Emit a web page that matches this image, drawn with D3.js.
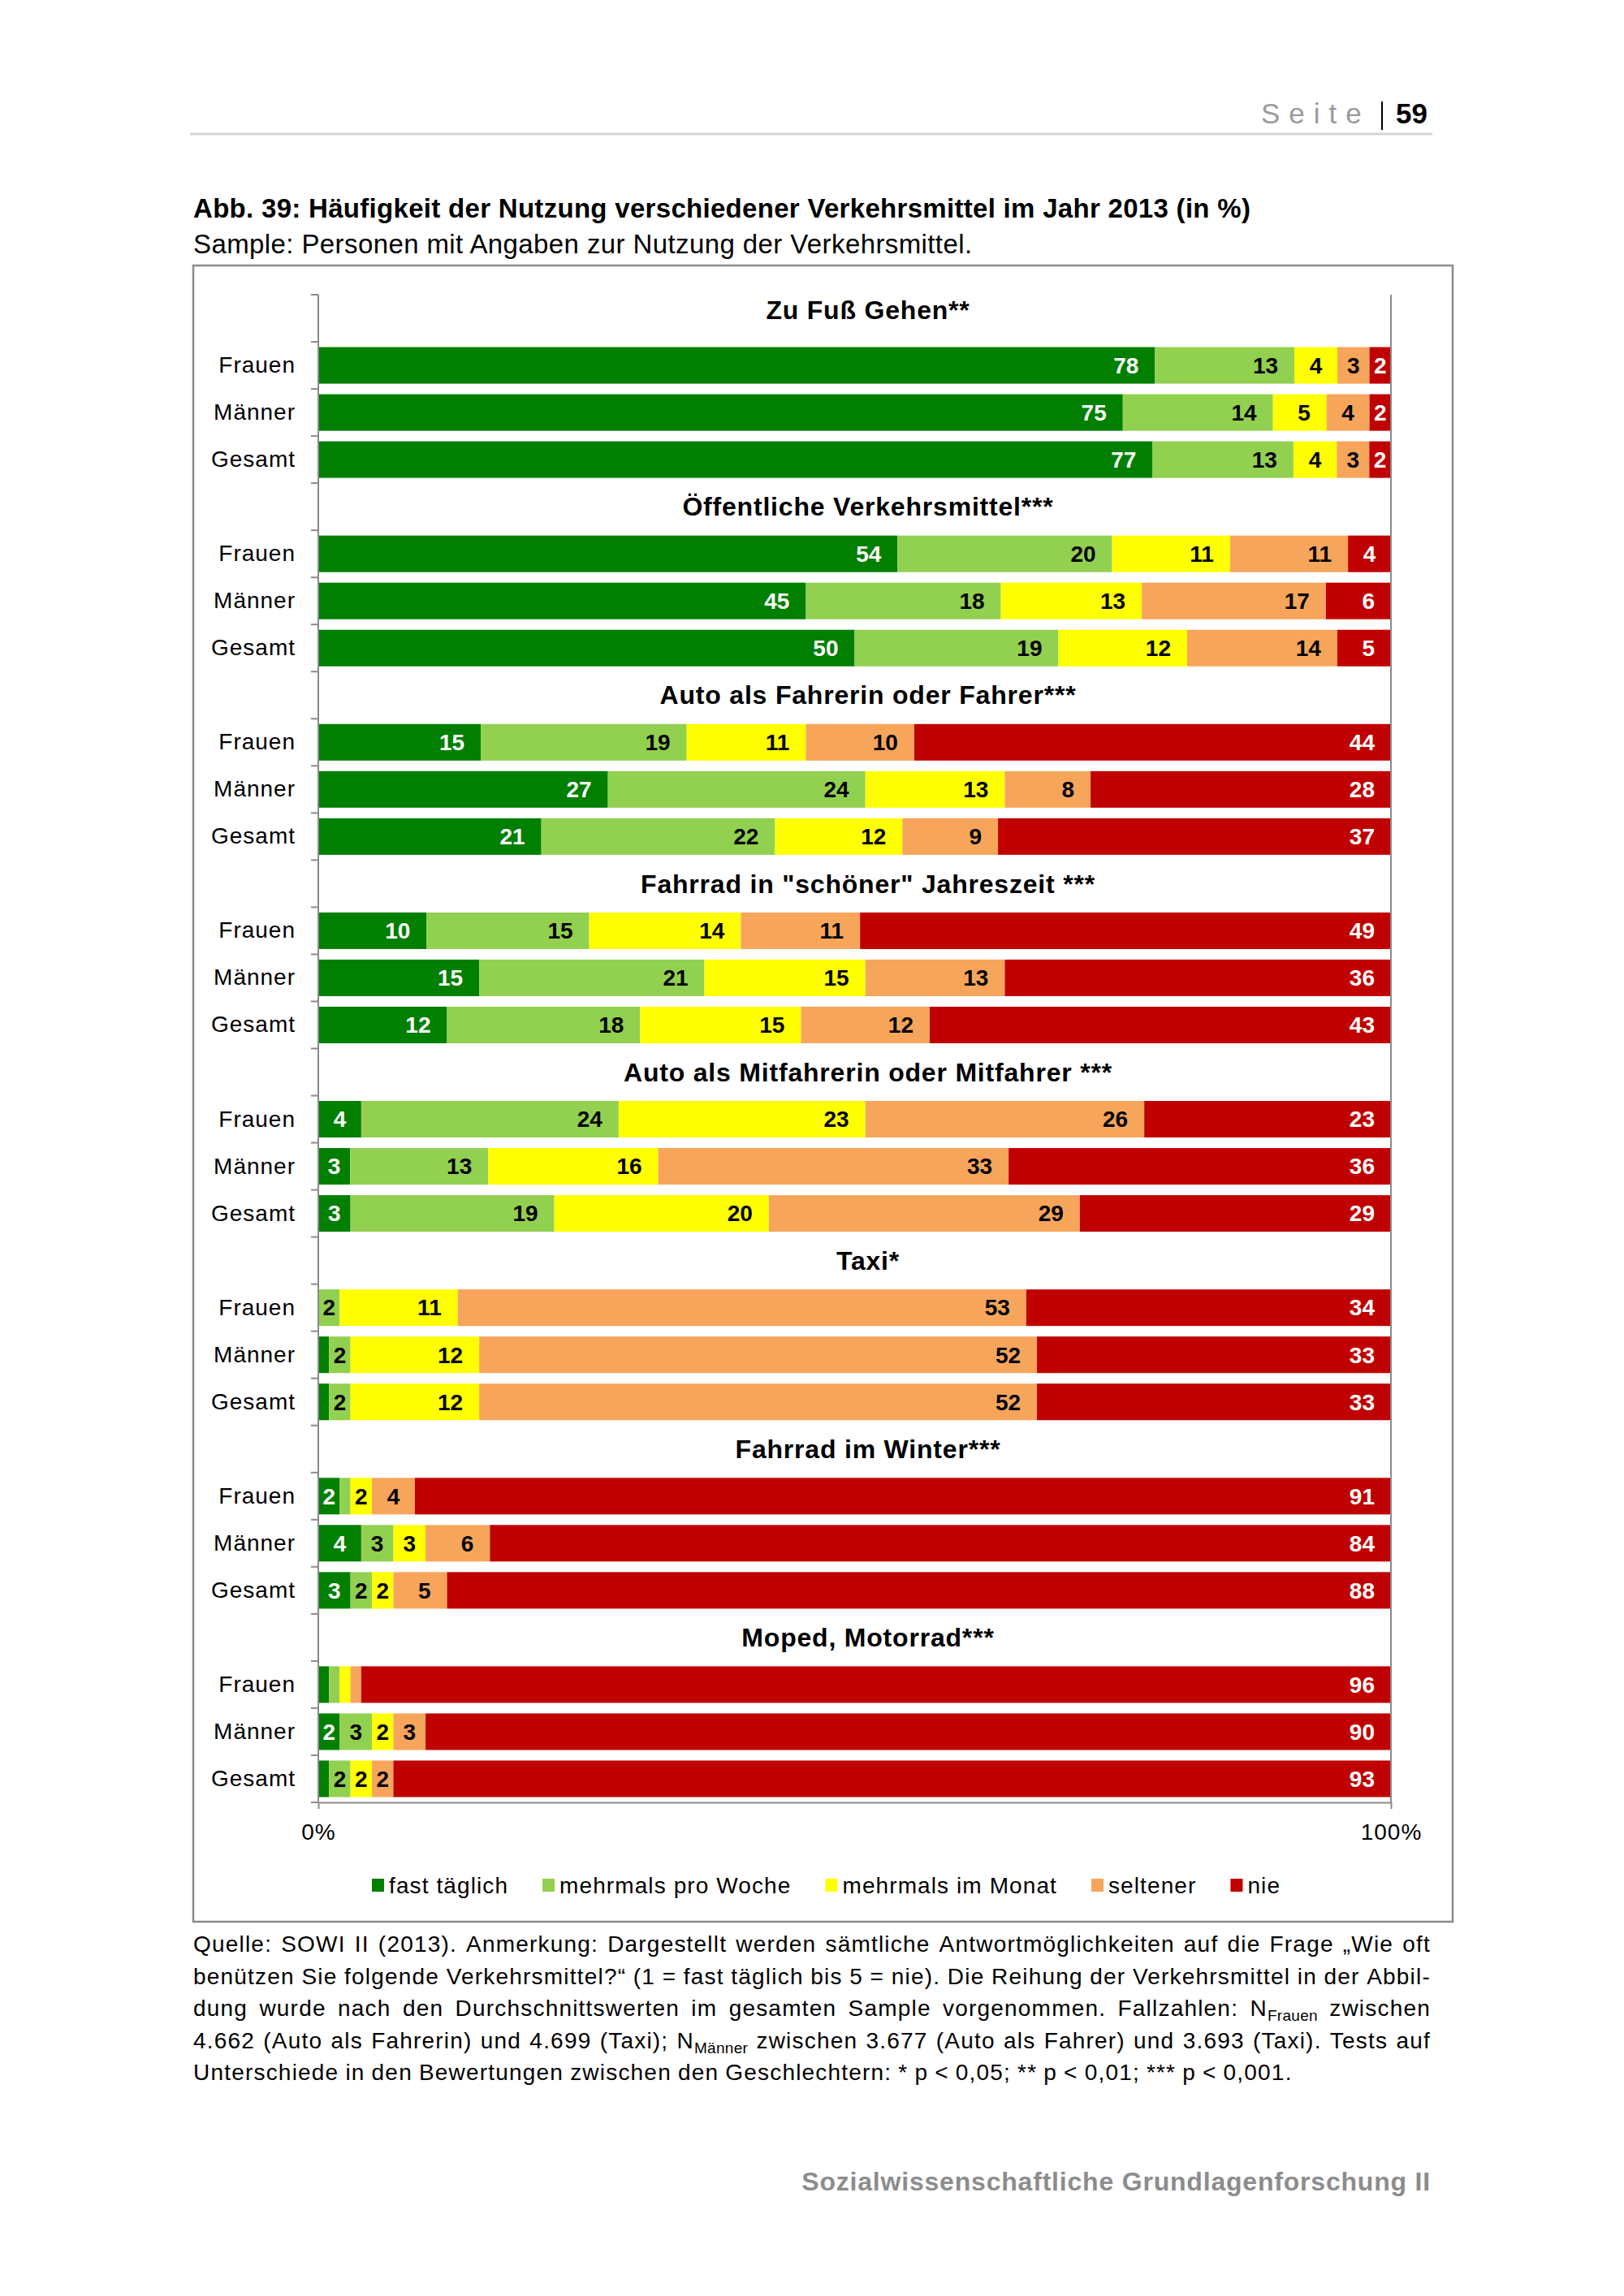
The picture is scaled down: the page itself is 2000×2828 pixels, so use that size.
<!DOCTYPE html>
<html>
<head>
<meta charset="utf-8">
<script src="https://cdn.jsdelivr.net/npm/d3@7"></script>
<style>
  body { margin: 0; background: #fff; }
  text { font-family: "Liberation Sans", Arial, sans-serif; }
</style>
</head>
<body>
<div id="chart"></div>
<script>
// Groups, rows and answer categories
var groups = [
  "Zu Fuß Gehen**",
  "Öffentliche Verkehrsmittel***",
  "Auto als Fahrerin oder Fahrer***",
  "Fahrrad in \"schöner\" Jahreszeit ***",
  "Auto als Mitfahrerin oder Mitfahrer ***",
  "Taxi*",
  "Fahrrad im Winter***",
  "Moped, Motorrad***"
];
var rows = ["Frauen", "Männer", "Gesamt"];
var series = ["fast täglich", "mehrmals pro Woche", "mehrmals im Monat", "seltener", "nie"];

// Values in %, order: group by group, Frauen / Männer / Gesamt
var fastTaeglich  = [78, 75, 77, 54, 45, 50, 15, 27, 21, 10, 15, 12,  4,  3,  3,  0,  1,  1,  2,  4,  3,  1,  2,  1];
var mehrmalsWoche = [13, 14, 13, 20, 18, 19, 19, 24, 22, 15, 21, 18, 24, 13, 19,  2,  2,  2,  1,  3,  2,  1,  3,  2];
var mehrmalsMonat = [ 4,  5,  4, 11, 13, 12, 11, 13, 12, 14, 15, 15, 23, 16, 20, 11, 12, 12,  2,  3,  2,  1,  2,  2];
var seltener      = [ 3,  4,  3, 11, 17, 14, 10,  8,  9, 11, 13, 12, 26, 33, 29, 53, 52, 52,  4,  6,  5,  1,  3,  2];
var nie           = [ 2,  2,  2,  4,  6,  5, 44, 28, 37, 49, 36, 43, 23, 36, 29, 34, 33, 33, 91, 84, 88, 96, 90, 93];

var seriesValues = [fastTaeglich, mehrmalsWoche, mehrmalsMonat, seltener, nie];

var xTicks = [0, 1];

// Colours
var colors = ["#007f00", "#92d050", "#ffff00", "#f7a55b", "#c00000"];
var whiteText = [true, false, false, false, true];
var axisColor = "#8a8a8a";

// Page size
var width = 2000;
var height = 2828;

var svg = d3.select("#chart")
  .append("svg")
  .attr("width", width)
  .attr("height", height);

svg.append("rect").attr("width", width).attr("height", height).attr("fill", "#fff");

// Page header
svg.append("text")
  .attr("x", 1553).attr("y", 152)
  .attr("font-size", 35)
  .attr("fill", "#9a9a9a")
  .attr("letter-spacing", 11)
  .text("Seite");
svg.append("line")
  .attr("x1", 1702).attr("x2", 1702).attr("y1", 125).attr("y2", 160)
  .attr("stroke", "#000").attr("stroke-width", 2);
svg.append("text")
  .attr("x", 1719).attr("y", 152)
  .attr("font-size", 35).attr("font-weight", "bold")
  .text("59");
svg.append("line")
  .attr("x1", 234).attr("x2", 1764).attr("y1", 165).attr("y2", 165)
  .attr("stroke", "#d6d6d6").attr("stroke-width", 3);

// Figure title
svg.append("text")
  .attr("x", 238).attr("y", 268)
  .attr("font-size", 33).attr("font-weight", "bold")
  .attr("letter-spacing", 0.3)
  .text("Abb. 39: Häufigkeit der Nutzung verschiedener Verkehrsmittel im Jahr 2013 (in %)");
svg.append("text")
  .attr("x", 238).attr("y", 312)
  .attr("font-size", 33)
  .attr("letter-spacing", 0.4)
  .text("Sample: Personen mit Angaben zur Nutzung der Verkehrsmittel.");

// Chart frame
svg.append("rect")
  .attr("x", 238).attr("y", 327)
  .attr("width", 1551).attr("height", 2040)
  .attr("fill", "none")
  .attr("stroke", axisColor).attr("stroke-width", 2.5);

// Build table rows
var keys = [];
var table = [];
groups.forEach(function (g, gi) {
  keys.push("t" + gi);
  rows.forEach(function (r, ri) {
    var idx = gi * rows.length + ri;
    var d = { key: gi + "|" + r, group: gi, row: r };
    series.forEach(function (s, si) {
      d[s] = seriesValues[si][idx];
    });
    keys.push(d.key);
    table.push(d);
  });
});

// Scales
var xScale = d3.scaleLinear().domain([0, 1]).range([392, 1713]);

var yScale = d3.scaleBand()
  .domain(keys)
  .range([363, 2220])
  .paddingInner(0.224)
  .paddingOuter(0.112);

// Stack to 100%
var stacked = d3.stack()
  .keys(series)
  .offset(d3.stackOffsetExpand)(table);

var layers = svg.append("g")
  .selectAll("g")
  .data(stacked)
  .join("g")
  .attr("fill", function (d, i) { return colors[i]; });

layers.selectAll("rect")
  .data(function (d) { return d; })
  .join("rect")
  .attr("x", function (d) { return xScale(d[0]); })
  .attr("y", function (d) { return yScale(d.data.key); })
  .attr("width", function (d) { return xScale(d[1]) - xScale(d[0]); })
  .attr("height", yScale.bandwidth());

// Value labels (inside end, centred when the segment is narrow)
var labelGroup = svg.append("g")
  .attr("font-size", 28)
  .attr("font-weight", "bold")
  .attr("text-anchor", "middle");

stacked.forEach(function (layer, si) {
  layer.forEach(function (d) {
    var v = d.data[series[si]];
    if (v < 2) return;
    var x0 = xScale(d[0]);
    var x1 = xScale(d[1]);
    var t = labelGroup.append("text")
      .attr("y", yScale(d.data.key) + yScale.bandwidth() / 2)
      .attr("dy", "0.35em")
      .attr("fill", whiteText[si] ? "#fff" : "#000")
      .text(v);
    var w = t.node().getComputedTextLength();
    t.attr("x", Math.max((x0 + x1) / 2, x1 - 20 - w / 2));
  });
});

// Group titles
svg.append("g")
  .selectAll("text")
  .data(groups)
  .join("text")
  .attr("x", 1069)
  .attr("y", function (d, i) {
    return yScale("t" + i) + yScale.bandwidth() / 2 - (i === 0 ? 10 : 0);
  })
  .attr("dy", "0.35em")
  .attr("text-anchor", "middle")
  .attr("font-size", 32)
  .attr("font-weight", "bold")
  .attr("letter-spacing", 0.8)
  .text(function (d) { return d; });

// Y axis labels
var yAxis = svg.append("g")
  .attr("transform", "translate(392,0)")
  .call(d3.axisLeft(yScale)
    .tickSize(0)
    .tickPadding(28)
    .tickFormat(function (k) { return k.charAt(0) === "t" ? "" : k.split("|")[1]; }));
yAxis.select(".domain").remove();
yAxis.selectAll("text")
  .attr("font-size", 28)
  .attr("letter-spacing", 1)
  .attr("font-family", "Liberation Sans, Arial, sans-serif")
  .attr("fill", "#000");

// Y axis line and boundary ticks
var bounds = d3.range(keys.length + 1).map(function (k) {
  return yScale.range()[0] + k * yScale.step();
});
svg.append("g")
  .selectAll("line")
  .data(bounds)
  .join("line")
  .attr("x1", 383).attr("x2", 392)
  .attr("y1", function (d) { return d; })
  .attr("y2", function (d) { return d; })
  .attr("stroke", axisColor).attr("stroke-width", 2);

svg.append("line")
  .attr("x1", 392).attr("x2", 392)
  .attr("y1", yScale.range()[0]).attr("y2", yScale.range()[1])
  .attr("stroke", axisColor).attr("stroke-width", 2);

// 100% line
svg.append("line")
  .attr("x1", xScale(1)).attr("x2", xScale(1))
  .attr("y1", yScale.range()[0]).attr("y2", yScale.range()[1])
  .attr("stroke", axisColor).attr("stroke-width", 2);

// X axis
var xAxis = svg.append("g")
  .attr("transform", "translate(0," + yScale.range()[1] + ")")
  .call(d3.axisBottom(xScale)
    .tickValues(xTicks)
    .tickFormat(d3.format(".0%"))
    .tickSize(8)
    .tickSizeOuter(0)
    .tickPadding(18));
xAxis.select(".domain").attr("stroke", axisColor).attr("stroke-width", 2);
xAxis.selectAll(".tick line").attr("stroke", axisColor).attr("stroke-width", 2);
xAxis.selectAll("text")
  .attr("font-size", 28)
  .attr("letter-spacing", 1)
  .attr("font-family", "Liberation Sans, Arial, sans-serif")
  .attr("fill", "#000");

// Legend
var legend = svg.append("g").attr("font-size", 28).attr("letter-spacing", 1.1);
var lx = 458;
series.forEach(function (s, i) {
  legend.append("rect")
    .attr("x", lx).attr("y", 2314)
    .attr("width", 15).attr("height", 16)
    .attr("fill", colors[i]);
  var t = legend.append("text")
    .attr("x", lx + 21).attr("y", 2322)
    .attr("dy", "0.35em")
    .text(s);
  lx += 21 + t.node().getComputedTextLength() + 42;
});

// Footnote, justified
var noteLines = [
  [["Quelle: SOWI II (2013). Anmerkung: Dargestellt werden sämtliche Antwortmöglichkeiten auf die Frage „Wie oft"]],
  [["benützen Sie folgende Verkehrsmittel?“ (1 = fast täglich bis 5 = nie). Die Reihung der Verkehrsmittel in der Abbil-"]],
  [["dung wurde nach den Durchschnittswerten im gesamten Sample vorgenommen. Fallzahlen:"], ["N", "Frauen"], ["zwischen"]],
  [["4.662 (Auto als Fahrerin) und 4.699 (Taxi);"], ["N", "Männer"], ["zwischen 3.677 (Auto als Fahrer) und 3.693 (Taxi). Tests auf"]],
  [["Unterschiede in den Bewertungen zwischen den Geschlechtern: * p < 0,05; ** p < 0,01; *** p < 0,001."]]
];
var noteLeft = 238, noteRight = 1762, noteTop = 2404, noteStep = 39.6;
var note = svg.append("g").attr("font-size", 28).attr("letter-spacing", 1.2);

noteLines.forEach(function (line, li) {
  // split into words; subscript words stay as one unit
  var words = [];
  line.forEach(function (part) {
    if (part.length === 2) words.push(part);
    else part[0].split(" ").forEach(function (w) { words.push([w]); });
  });
  var items = words.map(function (w) {
    var t = note.append("text").attr("y", noteTop + li * noteStep);
    t.append("tspan").text(w[0]);
    if (w.length === 2) {
      t.append("tspan").attr("font-size", 19).attr("letter-spacing", 0.3).attr("dy", 6).text(w[1]);
    }
    return { el: t, w: t.node().getComputedTextLength() };
  });
  var total = d3.sum(items, function (d) { return d.w; });
  var last = li === noteLines.length - 1;
  var gap = last ? 8 : (noteRight - noteLeft - total) / (items.length - 1);
  var cx = noteLeft;
  items.forEach(function (d) {
    d.el.attr("x", cx);
    cx += d.w + gap;
  });
});

// Page footer
svg.append("text")
  .attr("x", 1762).attr("y", 2698)
  .attr("text-anchor", "end")
  .attr("font-size", 32).attr("font-weight", "bold")
  .attr("letter-spacing", 0.8)
  .attr("fill", "#8c8c8c")
  .text("Sozialwissenschaftliche Grundlagenforschung II");
</script>
</body>
</html>
